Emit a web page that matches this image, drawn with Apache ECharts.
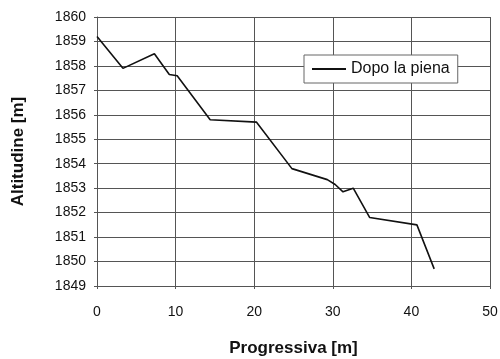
<!DOCTYPE html>
<html>
<head>
<meta charset="utf-8">
<script src="https://cdn.jsdelivr.net/npm/echarts@6/dist/echarts.min.js"></script>
<style>
  html, body { margin: 0; padding: 0; background: #fff; }
  #chart { width: 500px; height: 359px; }
</style>
</head>
<body>
<div id="chart"></div>
<script>
// progressiva [m] and altitudine [m]
const progressiva = [0, 3.3, 7.3, 9.2, 10.2, 14.4, 20.3, 24.8, 29.3, 30.3, 31.3, 32.6, 34.7, 40.7, 42.9]
const altitudine = [1859.2, 1857.9, 1858.5, 1857.65, 1857.6, 1855.8, 1855.7, 1853.8, 1853.35, 1853.15, 1852.85, 1853.0, 1851.8, 1851.5, 1849.7]
const seriesName = 'Dopo la piena'

const chart = echarts.init(document.getElementById('chart'))
const font = 'Liberation Sans'
const gridColor = '#555'

const option = {
    animation: false,
    textStyle: { fontFamily: font },
    grid: { left: 97, right: 10, top: 17, bottom: 73, outerBoundsMode: 'none' },
    legend: {
        data: [seriesName],
        left: 304,
        top: 55,
        orient: 'vertical',
        backgroundColor: '#fff',
        borderColor: '#666',
        borderWidth: 1,
        padding: [6, 8, 6, 8],
        itemWidth: 34,
        itemHeight: 2,
        itemGap: 0,
        icon: 'rect',
        textStyle: { fontSize: 16, color: '#111', fontFamily: font }
    },
    xAxis: {
        type: 'value',
        min: 0,
        max: 50,
        interval: 10,
        name: 'Progressiva [m]',
        nameLocation: 'middle',
        nameGap: 54,
        nameTextStyle: { fontSize: 17, fontWeight: 'bold', color: '#111' },
        axisLine: { show: true, lineStyle: { color: gridColor } },
        axisTick: { show: true, length: 3, lineStyle: { color: gridColor } },
        axisLabel: { fontSize: 14, color: '#111', margin: 19, formatter: v => String(v) },
        splitLine: { show: true, lineStyle: { color: gridColor, width: 1 } }
    },
    yAxis: {
        type: 'value',
        min: 1849,
        max: 1860,
        interval: 1,
        name: 'Altitudine [m]',
        nameLocation: 'middle',
        nameGap: 70,
        nameTextStyle: { fontSize: 17, fontWeight: 'bold', color: '#111' },
        axisLine: { show: true, lineStyle: { color: gridColor } },
        axisTick: { show: true, length: 3, lineStyle: { color: gridColor } },
        axisLabel: { fontSize: 14, color: '#111', margin: 11, formatter: v => String(v) },
        splitLine: { show: true, lineStyle: { color: gridColor, width: 1 } }
    },
    series: [
        {
            name: seriesName,
            type: 'line',
            data: progressiva.map((x, i) => [x, altitudine[i]]),
            showSymbol: false,
            symbol: 'none',
            lineStyle: { color: '#111', width: 1.6 },
            itemStyle: { color: '#111' }
        }
    ]
}

chart.setOption(option)
</script>
</body>
</html>
